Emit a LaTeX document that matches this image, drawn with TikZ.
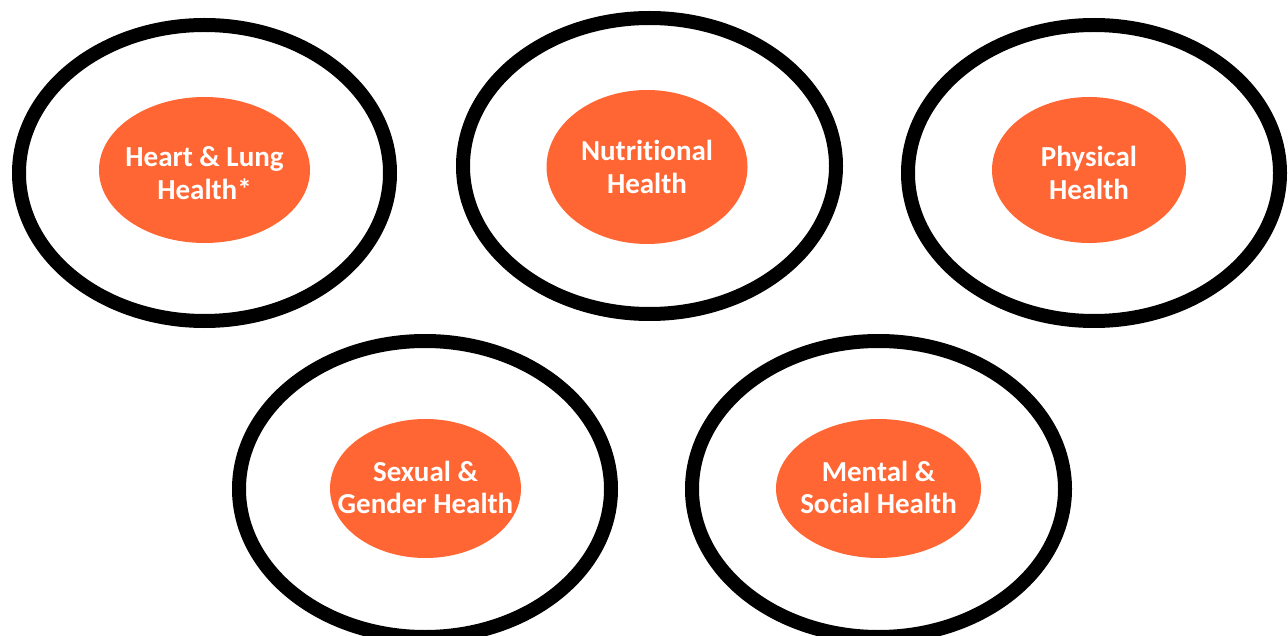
\documentclass[tikz,border=0pt]{standalone}
\usepackage{fontspec}
\setmainfont{Carlito}[Ligatures={NoCommon}]
\usetikzlibrary{shapes.geometric}
\definecolor{blob}{HTML}{FF6633}
\tikzset{
  ring/.style={draw=black, line width=14pt, ellipse, inner sep=0pt},
  blobnode/.style={fill=blob, ellipse, inner sep=0pt},
  label text/.style={text=white, align=center, inner sep=0pt,
    font=\bfseries\fontsize{29}{32.5}\selectfont}
}
\begin{document}
\begin{tikzpicture}[x=1pt,y=-1pt]
\useasboundingbox (0,0) rectangle (1288,636);
\node[ring, minimum width=371pt, minimum height=296pt] (r1) at (204.5,173) {};
\node[ring, minimum width=373pt, minimum height=296pt] (r2) at (649.5,166) {};
\node[ring, minimum width=372pt, minimum height=296pt] (r3) at (1094,173) {};
\node[ring, minimum width=372pt, minimum height=296pt] (r4) at (425,489) {};
\node[ring, minimum width=373pt, minimum height=296pt] (r5) at (878.5,489) {};
\node[blobnode, minimum width=211pt, minimum height=146pt] (b1) at (204.5,170) {};
\node[blobnode, minimum width=201pt, minimum height=154pt] (b2) at (647,167) {};
\node[blobnode, minimum width=194pt, minimum height=146pt] (b3) at (1089,170) {};
\node[blobnode, minimum width=191pt, minimum height=139pt] (b4) at (425.5,488.5) {};
\node[blobnode, minimum width=205pt, minimum height=139pt] (b5) at (878.5,488.5) {};
\node[label text] (t1) at ([yshift=-3pt]b1.center) {Heart \& Lung\\Health*};
\node[label text] (t2) at (b2.center) {Nutritional\\Health};
\node[label text] (t3) at ([yshift=-3pt]b3.center) {Physical\\Health};
\node[label text] (t4) at ([yshift=1pt]b4.center) {Sexual \&\\Gender Health};
\node[label text] (t5) at ([yshift=1pt]b5.center) {Mental \&\\Social Health};
\end{tikzpicture}
\end{document}
